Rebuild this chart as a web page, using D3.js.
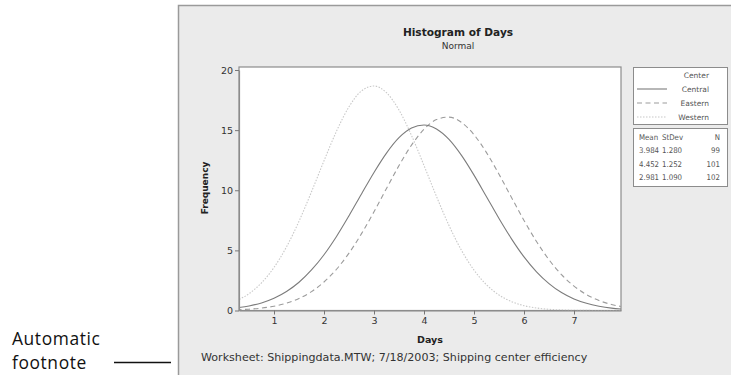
<!DOCTYPE html>
<html><head><meta charset="utf-8">
<script src="https://cdn.jsdelivr.net/npm/d3@7"></script>
<style>html,body{margin:0;padding:0;background:#fff;}svg{display:block;}</style>
</head><body>
<script>
// ---- Data ----
const days = [0.25,0.5,0.75,1,1.25,1.5,1.75,2,2.25,2.5,2.75,3,3.25,3.5,3.75,4,4.25,4.5,4.75,5,5.25,5.5,5.75,6,6.25,6.5,6.75,7,7.25,7.5,7.75,8];
const central = [0.22,0.38,0.63,1.02,1.58,2.35,3.37,4.64,6.16,7.88,9.69,11.48,13.09,14.37,15.17,15.43,15.10,14.23,12.90,11.26,9.46,7.65,5.96,4.46,3.22,2.24,1.49,0.96,0.60,0.36,0.20,0.11];
const eastern = [0.06,0.11,0.20,0.36,0.61,1.00,1.57,2.37,3.43,4.77,6.39,8.21,10.15,12.05,13.75,15.07,15.88,16.08,15.64,14.62,13.13,11.33,9.40,7.49,5.74,4.22,2.98,2.03,1.32,0.83,0.50,0.29];
const western = [0.81,1.40,2.30,3.58,5.29,7.42,9.87,12.45,14.91,16.94,18.26,18.67,18.11,16.67,14.56,12.06,9.48,7.07,5.00,3.36,2.14,1.29,0.74,0.40,0.21,0.10,0.05,0.02,0.01,0.00,0.00,0.00];
const seriesNames = ["Central","Eastern","Western"];
const means = ["3.984","4.452","2.981"];
const stdevs = ["1.280","1.252","1.090"];
const counts = ["99","101","102"];
const xTicks = [1,2,3,4,5,6,7];
const yTicks = [0,5,10,15,20];

const W = 731, H = 375;
const svg = d3.select("body").append("svg").attr("width", W).attr("height", H);

// left annotation
svg.append("text").attr("x", 12).attr("y", 345).attr("font-family", "Open Sans").attr("font-size", 17.4).attr("letter-spacing", 0.6).attr("fill", "#111").text("Automatic");
svg.append("text").attr("x", 12).attr("y", 369).attr("font-family", "Open Sans").attr("font-size", 17.4).attr("letter-spacing", 0.6).attr("fill", "#111").text("footnote");
svg.append("line").attr("x1", 114).attr("x2", 171).attr("y1", 362.5).attr("y2", 362.5).attr("stroke", "#111").attr("stroke-width", 1.5);

// gray panel
svg.append("rect").attr("x", 178).attr("y", 5).attr("width", W - 178 + 5).attr("height", H).attr("fill", "#ebebeb");
svg.append("path").attr("d", `M178.5,${H} V5.5 H${W}`).attr("fill", "none").attr("stroke", "#9a9a9a").attr("stroke-width", 1.5);

const x = d3.scaleLinear().domain([0.3, 7.94]).range([239, 621]);
const y = d3.scaleLinear().domain([0, 20]).range([310.5, 70]);

// plot area
svg.append("rect").attr("x", 239).attr("y", 67).attr("width", 621 - 239).attr("height", 310.5 - 67).attr("fill", "#fff").attr("stroke", "#8c8c8c").attr("stroke-width", 1.2);

svg.append("defs").append("clipPath").attr("id", "clip").append("rect").attr("x", 239).attr("y", 67).attr("width", 621 - 239).attr("height", 310.5 - 67);

const styles = [
  {stroke: "#7c7c7c", dash: null, w: 1.1},
  {stroke: "#9c9c9c", dash: "5,3.5", w: 1.1},
  {stroke: "#c8c8c8", dash: "1.5,1.5", w: 1.1}
];
const data = [central, eastern, western];
const line = d3.line().x((d, i) => x(days[i])).y(d => y(d)).curve(d3.curveMonotoneX);
const g = svg.append("g").attr("clip-path", "url(#clip)");
[2, 1, 0].forEach(k => {
  g.append("path").datum(data[k]).attr("d", line).attr("fill", "none")
    .attr("stroke", styles[k].stroke).attr("stroke-width", styles[k].w)
    .attr("stroke-dasharray", styles[k].dash);
});

// axes
const xa = svg.append("g").attr("transform", "translate(0,310.5)")
  .call(d3.axisBottom(x).tickValues(xTicks).tickSize(4).tickSizeOuter(0).tickPadding(3));
const ya = svg.append("g").attr("transform", "translate(239,0)")
  .call(d3.axisLeft(y).tickValues(yTicks).tickSize(4).tickSizeOuter(0).tickPadding(2));
[xa, ya].forEach(a => {
  a.select(".domain").attr("stroke", "#8c8c8c").attr("stroke-width", 1.2);
  a.selectAll(".tick line").attr("stroke", "#777");
  a.selectAll(".tick text").attr("font-family", "DejaVu Sans").attr("font-size", 9.5).attr("fill", "#333");
});

// titles
svg.append("text").attr("x", 458).attr("y", 36).attr("text-anchor", "middle").attr("font-family", "DejaVu Sans").attr("font-weight", "bold").attr("font-size", 10.6).attr("fill", "#222").text("Histogram of Days");
svg.append("text").attr("x", 458).attr("y", 49).attr("text-anchor", "middle").attr("font-family", "DejaVu Sans").attr("font-size", 9).attr("fill", "#333").text("Normal");
svg.append("text").attr("x", 430).attr("y", 343).attr("text-anchor", "middle").attr("font-family", "DejaVu Sans").attr("font-weight", "bold").attr("font-size", 9.5).attr("fill", "#222").text("Days");
svg.append("text").attr("transform", "translate(208,188) rotate(-90)").attr("text-anchor", "middle").attr("font-family", "DejaVu Sans").attr("font-weight", "bold").attr("font-size", 9).attr("fill", "#222").text("Frequency");
svg.append("text").attr("x", 201).attr("y", 361).attr("font-family", "DejaVu Sans").attr("font-size", 11.1).attr("fill", "#333").text("Worksheet: Shippingdata.MTW; 7/18/2003; Shipping center efficiency");

// legend
const lf = "DejaVu Sans";
const tf = "DejaVu Sans Condensed";
svg.append("rect").attr("x", 633.5).attr("y", 67.5).attr("width", 94).attr("height", 57).attr("fill", "#fff").attr("stroke", "#8c8c8c");
svg.append("text").attr("x", 709).attr("y", 78).attr("text-anchor", "end").attr("font-family", lf).attr("font-size", 7.5).attr("fill", "#555").text("Center");
seriesNames.forEach((n, k) => {
  const yy = 89 + k * 14;
  svg.append("line").attr("x1", 637).attr("x2", 667).attr("y1", yy).attr("y2", yy)
    .attr("stroke", styles[k].stroke).attr("stroke-width", 1.1).attr("stroke-dasharray", styles[k].dash);
  svg.append("text").attr("x", 709).attr("y", yy + 3).attr("text-anchor", "end").attr("font-family", lf).attr("font-size", 7.5).attr("fill", "#555").text(n);
});
svg.append("rect").attr("x", 633.5).attr("y", 128.5).attr("width", 94).attr("height", 58).attr("fill", "#fff").attr("stroke", "#8c8c8c");
const cols = [{x: 639, a: "start"}, {x: 662, a: "start"}, {x: 720, a: "end"}];
const header = ["Mean", "StDev", "N"];
header.forEach((h, i) => svg.append("text").attr("x", cols[i].x).attr("y", 140).attr("text-anchor", cols[i].a).attr("font-family", tf).attr("font-size", 7.8).attr("fill", "#555").text(h));
seriesNames.forEach((n, k) => {
  const yy = 153 + k * 13.5;
  [means[k], stdevs[k], counts[k]].forEach((v, i) =>
    svg.append("text").attr("x", cols[i].x).attr("y", yy).attr("text-anchor", cols[i].a).attr("font-family", tf).attr("font-size", 7.8).attr("fill", "#555").text(v));
});
</script>
</body></html>
